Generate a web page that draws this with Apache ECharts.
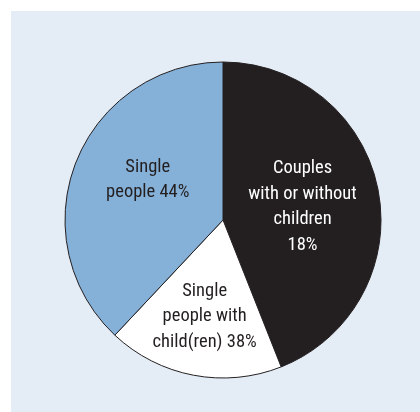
<!DOCTYPE html>
<html>
<head>
<meta charset="utf-8">
<script src="https://cdn.jsdelivr.net/npm/echarts@6/dist/echarts.min.js"></script>
<style>
html,body{margin:0;padding:0;background:#ffffff;}
#wrap{position:absolute;left:11px;top:11px;width:409px;height:401px;background:#e4ecf6;}
#chart{width:409px;height:401px;}
</style>
</head>
<body>
<div id="wrap"><div id="chart"></div></div>
<script>
// Slice values (angular share, %)
var categories = ['Couples with or without children', 'Single people with child(ren)', 'Single people'];
var values = [44, 18, 38];
// Label texts as printed in the reference
var labelTexts = ['Couples\nwith or without\nchildren\n18%', 'Single\npeople with\nchild(ren) 38%', 'Single\npeople 44%'];
var colors = ['#231f20', '#ffffff', '#85b1d9'];
var textColors = ['#ffffff', '#231f20', '#231f20'];
var labelShift = [[-1, 2], [-3, 16], [1, -10]];

var chart = echarts.init(document.getElementById('chart'), null, {renderer: 'canvas'});
var data = categories.map(function (c, i) {
  return {
    name: c,
    value: values[i],
    itemStyle: {color: colors[i]},
    label: {color: textColors[i], formatter: labelTexts[i]}
  };
});
chart.setOption({
  animation: false,
  series: [{
    type: 'pie',
    center: [212, 209],
    radius: 158,
    startAngle: 90,
    clockwise: true,
    avoidLabelOverlap: false,
    itemStyle: {borderColor: '#231f20', borderWidth: 1},
    label: {
      show: true,
      position: 'inside',
      fontFamily: '"Roboto Condensed", "Liberation Sans Narrow", Roboto, sans-serif',
      fontSize: 18.5,
      lineHeight: 25.5,
      align: 'center'
    },
    labelLine: {show: false},
    labelLayout: function (p) {
      return {dx: labelShift[p.dataIndex][0], dy: labelShift[p.dataIndex][1]};
    },
    emphasis: {disabled: true},
    data: data
  }]
});
</script>
</body>
</html>
